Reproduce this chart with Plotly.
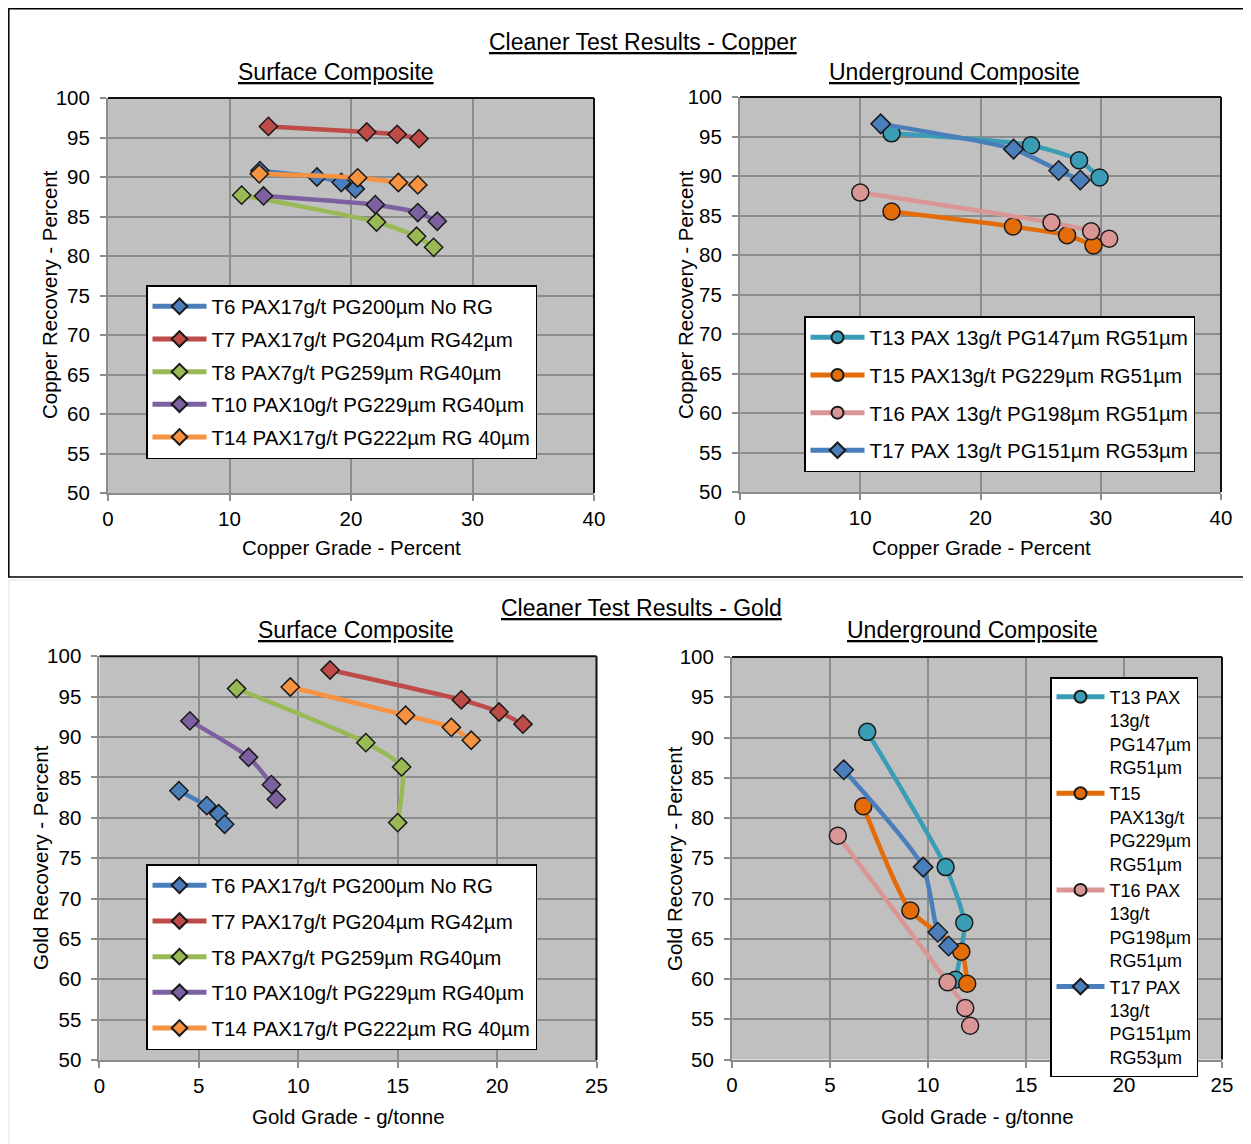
import plotly.graph_objects as go

# ---------------- DATA ----------------
# Copper - Surface composite (grade %, recovery %)
cu_surf_names = ["T6 PAX17g/t PG200µm No RG", "T7 PAX17g/t PG204µm RG42µm",
                 "T8 PAX7g/t PG259µm RG40µm", "T10 PAX10g/t PG229µm RG40µm",
                 "T14 PAX17g/t PG222µm RG 40µm"]
cu_t6_x = [12.5, 17.2, 19.2, 20.35]
cu_t6_y = [90.8, 90.0, 89.3, 88.5]
cu_t7_x = [13.2, 21.3, 23.8, 25.6]
cu_t7_y = [96.4, 95.7, 95.4, 94.85]
cu_t8_x = [11.0, 22.1, 25.4, 26.8]
cu_t8_y = [87.7, 84.3, 82.5, 81.1]
cu_t10_x = [12.8, 22.0, 25.5, 27.1]
cu_t10_y = [87.6, 86.5, 85.5, 84.4]
cu_t14_x = [12.45, 20.55, 23.9, 25.5]
cu_t14_y = [90.4, 89.9, 89.3, 89.0]

# Copper - Underground composite
cu_ug_names = ["T13 PAX 13g/t PG147µm RG51µm", "T15 PAX13g/t PG229µm RG51µm",
               "T16 PAX 13g/t PG198µm RG51µm", "T17 PAX 13g/t PG151µm RG53µm"]
cu_t13_x = [12.6, 24.2, 28.2, 29.9]
cu_t13_y = [95.4, 93.9, 92.0, 89.8]
cu_t15_x = [12.6, 22.7, 27.2, 29.4]
cu_t15_y = [85.5, 83.6, 82.5, 81.2]
cu_t16_x = [10.0, 25.9, 29.2, 30.7]
cu_t16_y = [87.9, 84.1, 83.0, 82.05]
cu_t17_x = [11.7, 22.75, 26.5, 28.3]
cu_t17_y = [96.6, 93.4, 90.7, 89.5]

# Gold - Surface composite (grade g/t, recovery %)
au_t6_x = [4.0, 5.4, 6.0, 6.3]
au_t6_y = [83.35, 81.5, 80.5, 79.2]
au_t7_x = [11.6, 18.2, 20.1, 21.3]
au_t7_y = [98.3, 94.6, 93.1, 91.6]
au_t8_x = [6.9, 13.4, 15.2, 15.0]
au_t8_y = [96.0, 89.3, 86.3, 79.4]
au_t10_x = [4.55, 7.5, 8.65, 8.9]
au_t10_y = [92.0, 87.5, 84.1, 82.3]
au_t14_x = [9.6, 15.4, 17.7, 18.7]
au_t14_y = [96.2, 92.7, 91.2, 89.6]

# Gold - Underground composite
au_ug_names = ["T13 PAX<br>13g/t<br>PG147µm<br>RG51µm", "T15<br>PAX13g/t<br>PG229µm<br>RG51µm",
               "T16 PAX<br>13g/t<br>PG198µm<br>RG51µm", "T17 PAX<br>13g/t<br>PG151µm<br>RG53µm"]
au_t13_x = [6.9, 10.9, 11.85, 11.4]
au_t13_y = [90.7, 73.9, 67.0, 59.9]
au_t15_x = [6.7, 9.1, 11.7, 12.0]
au_t15_y = [81.45, 68.5, 63.4, 59.4]
au_t16_x = [5.4, 11.0, 11.9, 12.15]
au_t16_y = [77.8, 59.6, 56.4, 54.2]
au_t17_x = [5.7, 9.75, 10.5, 11.05]
au_t17_y = [86.0, 73.9, 65.8, 64.1]

# tick values
cu_xticks = [0, 10, 20, 30, 40]
au_xticks = [0, 5, 10, 15, 20, 25]
rec_yticks = list(range(50, 101, 5))

# ---------------- STYLE ----------------
# the page body adds an 8 px margin, so the figure is drawn 8 px smaller
OFF = 8
W, H = 1251 - OFF, 1144 - OFF
FONT = "Liberation Sans, Arial, sans-serif"
surf_colors = ["#4A7EBB", "#BE4B48", "#98B954", "#7D60A0", "#F69240"]
ug_colors = ["#3A9DB6", "#E36C09", "#D99694", "#4A7EBB"]
ug_symbols = ["circle", "circle", "circle", "diamond"]


def px_x(p):
    return (p - OFF) / W


def px_y(p):
    return 1 - (p - OFF) / H


fig = go.Figure()


def add_series(xs, ys, name, color, symbol, xa, ya, legend, size):
    fig.add_trace(go.Scatter(
        x=xs, y=ys, name=name, mode="lines+markers",
        line=dict(color=color, width=4.5, shape="spline", smoothing=0.6),
        marker=dict(symbol=symbol, size=size, color=color,
                    line=dict(color="#1a1a1a", width=1.5)),
        xaxis=xa, yaxis=ya, legend=legend, legendgroup=legend + name,
    ))


surf_cu = [(cu_t6_x, cu_t6_y), (cu_t7_x, cu_t7_y), (cu_t8_x, cu_t8_y),
           (cu_t10_x, cu_t10_y), (cu_t14_x, cu_t14_y)]
for (xs, ys), n, c in zip(surf_cu, cu_surf_names, surf_colors):
    add_series(xs, ys, n, c, "diamond", "x", "y", "legend", 14)

ug_cu = [(cu_t13_x, cu_t13_y), (cu_t15_x, cu_t15_y), (cu_t16_x, cu_t16_y),
         (cu_t17_x, cu_t17_y)]
for (xs, ys), n, c, s in zip(ug_cu, cu_ug_names, ug_colors, ug_symbols):
    add_series(xs, ys, n, c, s, "x2", "y2", "legend2", 17 if s == "circle" else 15)

surf_au = [(au_t6_x, au_t6_y), (au_t7_x, au_t7_y), (au_t8_x, au_t8_y),
           (au_t10_x, au_t10_y), (au_t14_x, au_t14_y)]
for (xs, ys), n, c in zip(surf_au, cu_surf_names, surf_colors):
    add_series(xs, ys, n, c, "diamond", "x3", "y3", "legend3", 14)

ug_au = [(au_t13_x, au_t13_y), (au_t15_x, au_t15_y), (au_t16_x, au_t16_y),
         (au_t17_x, au_t17_y)]
for (xs, ys), n, c, s in zip(ug_au, au_ug_names, ug_colors, ug_symbols):
    add_series(xs, ys, n, c, s, "x4", "y4", "legend4", 17 if s == "circle" else 15)

# ---------------- AXES ----------------
panels = [
    # (suffix, x px range, y px range, xrange, xticks)
    ("", (108, 594), (98, 493), [0, 40], cu_xticks),
    ("2", (740, 1221), (97, 492), [0, 40], cu_xticks),
    ("3", (99.4, 596.5), (656.3, 1060), [0, 25], au_xticks),
    ("4", (732, 1222), (657, 1059.5), [0, 25], au_xticks),
]
axis_common = dict(showgrid=True, gridcolor="#8C8C8C", gridwidth=1.5,
                   showline=True, linecolor="#8C8C8C", linewidth=2,
                   ticks="outside", ticklen=6, tickcolor="#8C8C8C", tickwidth=1.5,
                   zeroline=False, automargin=False,
                   tickfont=dict(family=FONT, size=20.5, color="#000"))
shapes = []
for suf, (x0, x1), (y0, y1), xr, xt in panels:
    xa = dict(axis_common, domain=[px_x(x0), px_x(x1)], range=xr, tickvals=xt,
              anchor="y" + suf, ticklabelstandoff=0)
    ya = dict(axis_common, domain=[px_y(y1), px_y(y0)], range=[50, 100],
              tickvals=rec_yticks, anchor="x" + suf, ticklabelstandoff=6)
    fig.layout["xaxis" + suf] = xa
    fig.layout["yaxis" + suf] = ya
    xref = "x" + suf + " domain"
    yref = "y" + suf + " domain"
    shapes.append(dict(type="line", xref=xref, yref=yref, x0=0, x1=1, y0=1, y1=1,
                       line=dict(color="#111", width=2)))
    shapes.append(dict(type="line", xref=xref, yref=yref, x0=1, x1=1, y0=0, y1=1,
                       line=dict(color="#111", width=2)))

# outer frame of copper panel
shapes.append(dict(type="rect", xref="paper", yref="paper",
                   x0=px_x(8.8), x1=px_x(1250.5), y0=px_y(577), y1=px_y(8.8),
                   line=dict(color="#000", width=1.5)))
# faint frame of gold panel
shapes.append(dict(type="line", xref="paper", yref="paper",
                   x0=px_x(9), x1=px_x(1251), y0=px_y(580), y1=px_y(580),
                   line=dict(color="#E2E2E2", width=1)))
shapes.append(dict(type="line", xref="paper", yref="paper",
                   x0=px_x(9), x1=px_x(9), y0=px_y(580), y1=0,
                   line=dict(color="#E2E2E2", width=1)))

# ---------------- TEXT ----------------
annotations = []


def text(t, x, y, size=20.5, angle=0):
    annotations.append(dict(text=t, x=px_x(x), y=px_y(y), xref="paper", yref="paper",
                            showarrow=False, xanchor="center", yanchor="middle",
                            textangle=angle, font=dict(family=FONT, size=size, color="#000")))


text("<u>Cleaner Test Results - Copper</u>", 643, 42, 23)
text("<u>Surface Composite</u>", 336, 72, 23)
text("<u>Underground Composite</u>", 954, 72, 23)
text("<u>Cleaner Test Results - Gold</u>", 641, 608, 23)
text("<u>Surface Composite</u>", 356, 630, 23)
text("<u>Underground Composite</u>", 972, 630, 23)

text("Copper Grade - Percent", 351, 548)
text("Copper Grade - Percent", 981, 548)
text("Gold Grade - g/tonne", 348, 1116)
text("Gold Grade - g/tonne", 977, 1116)
text("Copper Recovery - Percent", 50, 295, angle=-90)
text("Copper Recovery - Percent", 686, 295, angle=-90)
text("Gold Recovery - Percent", 41, 858, angle=-90)
text("Gold Recovery - Percent", 675, 858, angle=-90)

leg_common = dict(bgcolor="#FFFFFF", bordercolor="#000", borderwidth=1.5,
                  xanchor="left", yanchor="top", xref="paper", yref="paper",
                  font=dict(family=FONT, size=20.5, color="#000"),
                  itemwidth=54, itemsizing="constant", tracegroupgap=3)

fig.update_layout(
    width=W, height=H,
    margin=dict(l=0, r=0, t=0, b=0, autoexpand=False),
    paper_bgcolor="#FFFFFF", plot_bgcolor="#C0C0C0",
    showlegend=True,
    legend=dict(leg_common, x=px_x(146), y=px_y(285)),
    legend2=dict(leg_common, x=px_x(804), y=px_y(316), tracegroupgap=8),
    legend3=dict(leg_common, x=px_x(146), y=px_y(864), tracegroupgap=6),
    legend4=dict(leg_common, x=px_x(1050), y=px_y(677), valign="top",
                 tracegroupgap=0, itemwidth=48,
                 font=dict(family=FONT, size=18, color="#000")),
    shapes=shapes, annotations=annotations,
)

fig.write_html("out.html")
